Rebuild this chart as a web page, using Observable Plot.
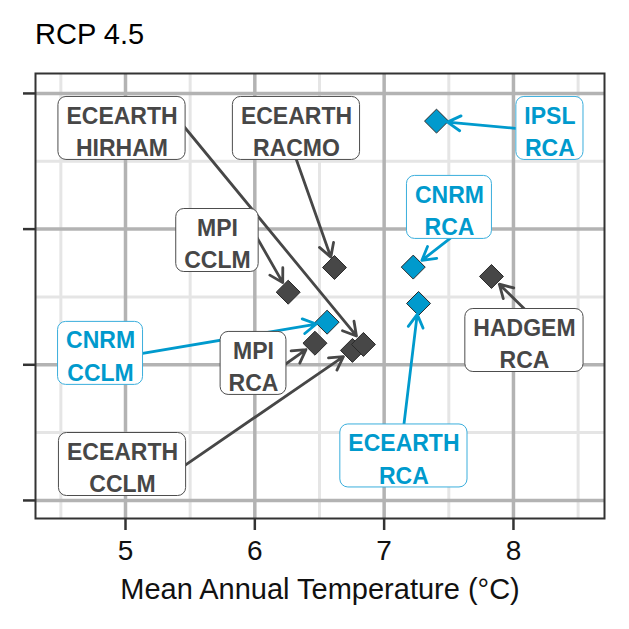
<!DOCTYPE html>
<html>
<head>
<meta charset="utf-8">
<script src="https://cdn.jsdelivr.net/npm/d3@7"></script>
<script src="https://cdn.jsdelivr.net/npm/@observablehq/plot@0.6"></script>
<style>
  body { margin: 0; background: #fff; font-family: "Liberation Sans", Arial, sans-serif; }
  #title { position: relative; height: 60px; width: 629px; }
  #title span { position: absolute; left: 35px; top: 20px; font-size: 29px; line-height: 29px; color: #000; }
</style>
</head>
<body>
<div id="title"><span>RCP 4.5</span></div>
<div id="chart"></div>
<script>
// ---- data ----
const models   = ["ECEARTH\nCCLM", "ECEARTH\nHIRHAM", "ECEARTH\nRACMO", "MPI\nCCLM", "MPI\nRCA",
                  "HADGEM\nRCA", "CNRM\nCCLM", "CNRM\nRCA", "ECEARTH\nRCA", "IPSL\nRCA"];
const groups   = ["other", "other", "other", "other", "other", "other", "RCA-blue", "RCA-blue", "RCA-blue", "RCA-blue"];
const temperature = [6.755, 6.840, 6.616, 6.258, 6.465, 7.830, 6.559, 7.225, 7.266, 7.405];
const yValue      = [2.106, 2.150, 2.717, 2.535, 2.159, 2.651, 2.314, 2.720, 2.452, 3.796];
// label anchor positions (data units) as placed by the repel layout in the reference
const labelX = [4.977, 4.973, 6.322, 5.711, 5.990, 8.085, 4.807, 7.505, 7.153, 8.282];
const labelY = [1.265, 3.742, 3.742, 2.916, 2.010, 2.179, 2.084, 3.160, 1.328, 3.742];
const labelSide = ["right", "right", "bottom", "right", "right", "top", "right", "bottom", "top", "left"];

const xTicks = [5, 6, 7, 8];
const xMinor = [4.5, 5.5, 6.5, 7.5, 8.5];
const yTicks = [1, 2, 3, 4];
const yMinor = [1.5, 2.5, 3.5];
const xDomain = [4.304, 8.704];
const yDomain = [0.867, 4.147];

const colorOf = {"other": "#474747", "RCA-blue": "#009ACD"};
const boxStrokeOf = {"other": "#4d4d4d", "RCA-blue": "#3aaedc"};

// ---- layout ----
const W = 629, H = 569;
const mL = 35, mR = 25, mT = 13, mB = 111;
const fontFamily = "Liberation Sans, Arial, sans-serif";
const labelFont = 23;

const xs = Plot.scale({x: {domain: xDomain, range: [mL, W - mR]}});
const ys = Plot.scale({y: {domain: yDomain, range: [H - mB, mT]}});

const ctx = document.createElement("canvas").getContext("2d");
ctx.font = `bold ${labelFont}px "Liberation Sans", Arial, sans-serif`;

const rows = models.map((m, i) => {
  const cx = xs.apply(labelX[i]), cy = ys.apply(labelY[i]);
  const tw = d3.max(m.split("\n"), s => ctx.measureText(s).width);
  const w = tw + 16, h = 63;
  let sx = cx, sy = cy;
  if (labelSide[i] === "right") sx = cx + w / 2;
  if (labelSide[i] === "left") sx = cx - w / 2;
  if (labelSide[i] === "top") sy = cy - h / 2;
  if (labelSide[i] === "bottom") sy = cy + h / 2;
  const tx = xs.apply(temperature[i]), ty = ys.apply(yValue[i]);
  const len = Math.hypot(sx - tx, sy - ty);
  const ex = sx + (sx - tx) / len * 20, ey = sy + (sy - ty) / len * 20; // tucked behind the box
  return {
    name: m, group: groups[i], color: colorOf[groups[i]], boxStroke: boxStrokeOf[groups[i]],
    x: temperature[i], y: yValue[i], lx: labelX[i], ly: labelY[i],
    bx1: xs.invert(cx - w / 2), bx2: xs.invert(cx + w / 2),
    by1: ys.invert(cy + h / 2), by2: ys.invert(cy - h / 2),
    ax: xs.invert(ex), ay: ys.invert(ey)
  };
});

const plot = Plot.plot({
  width: W, height: H,
  marginLeft: mL, marginRight: mR, marginTop: mT, marginBottom: mB,
  style: {fontFamily, background: "#fff", overflow: "visible"},
  x: {domain: xDomain},
  y: {domain: yDomain},
  color: {type: "identity"},
  marks: [
    Plot.ruleX(xMinor, {stroke: "#e5e5e5", strokeWidth: 3}),
    Plot.ruleY(yMinor, {stroke: "#e5e5e5", strokeWidth: 3}),
    Plot.ruleX(xTicks, {stroke: "#b3b3b3", strokeWidth: 3.5}),
    Plot.ruleY(yTicks, {stroke: "#b3b3b3", strokeWidth: 3.5}),
    Plot.axisX({ticks: xTicks, tickFormat: d3.format("d"), tickSize: 12, tickPadding: 10, fontSize: 28, stroke: "#333", strokeWidth: 2.5, fill: "#111", label: null}),
    Plot.axisY({ticks: yTicks, tickSize: 12, tickFormat: () => "", stroke: "#333", strokeWidth: 2.5, label: null}),
    Plot.text(["Mean Annual Temperature (°C)"], {frameAnchor: "bottom", lineAnchor: "middle", dy: 71, fontSize: 29, fill: "#111"}),
    Plot.dot(rows, {x: "x", y: "y", symbol: "diamond2", r: 10.8, fill: "color", stroke: "#2a2a2a", strokeWidth: 1}),
    Plot.arrow(rows, {x1: "ax", y1: "ay", x2: "x", y2: "y", stroke: "color", strokeWidth: 2.8, headLength: 8, headAngle: 60, insetEnd: 11}),
    Plot.rect(rows, {x1: "bx1", x2: "bx2", y1: "by1", y2: "by2", fill: "white", stroke: "boxStroke", strokeWidth: 1, rx: 8}),
    Plot.text(rows, {x: "lx", y: "ly", text: "name", fill: "color", fontSize: labelFont, fontWeight: "bold", lineHeight: 1.43, dy: 1}),
    Plot.frame({stroke: "#333", strokeWidth: 2})
  ]
});
document.getElementById("chart").appendChild(plot);
</script>
</body>
</html>
